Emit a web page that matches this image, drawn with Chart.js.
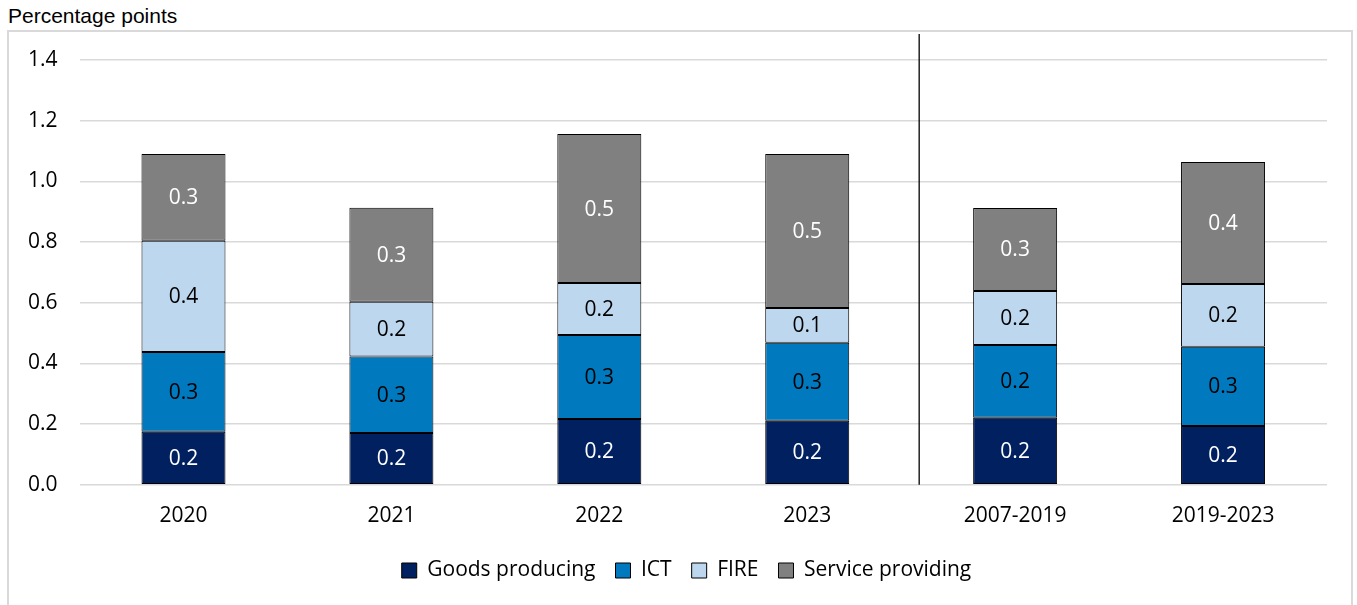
<!DOCTYPE html>
<html>
<head>
<meta charset="utf-8">
<script src="https://cdn.jsdelivr.net/npm/chart.js@4.4.1/dist/chart.umd.min.js"></script>
<style>
  html, body { margin: 0; padding: 0; background: #fff; }
  #wrap { position: relative; width: 1357px; height: 605px; overflow: hidden; }
  #unit { position: absolute; left: 8px; top: 4px; font: 21px "Liberation Sans", Arial, sans-serif; color: #000; }
  #frame { position: absolute; left: 7px; top: 30px; width: 1346px; height: 600px; border: 2px solid #d9d9d9; box-sizing: border-box; }
  #chartWrap { position: absolute; left: 0; top: 0; width: 1357px; height: 605px; }
</style>
</head>
<body>
<div id="wrap">
  <div id="unit">Percentage points</div>
  <div id="frame"></div>
  <div id="chartWrap"><canvas id="chartContrib"></canvas></div>
</div>
<script>
const categories = ['2020', '2021', '2022', '2023', '2007-2019', '2019-2023'];
const goodsProducing = [0.175, 0.171, 0.217, 0.211, 0.221, 0.194];
const ict = [0.263, 0.252, 0.277, 0.257, 0.240, 0.261];
const fire = [0.366, 0.180, 0.171, 0.115, 0.178, 0.207];
const serviceProviding = [0.286, 0.310, 0.491, 0.507, 0.273, 0.402];
const yTicks = [0.0, 0.2, 0.4, 0.6, 0.8, 1.0, 1.2, 1.4];

const fontFamily = '"Open Sans", sans-serif';

// writes the rounded value in the middle of every segment
const segmentLabels = {
    id: 'segmentLabels',
    afterDatasetsDraw(chart) {
        const ctx = chart.ctx;
        ctx.save();
        ctx.font = '21px ' + fontFamily;
        ctx.textAlign = 'center';
        ctx.textBaseline = 'middle';
        chart.data.datasets.forEach((ds, i) => {
            chart.getDatasetMeta(i).data.forEach((bar, j) => {
                const mid = (bar.y + bar.base) / 2;
                ctx.fillStyle = ds.labelColor;
                ctx.fillText(ds.data[j].toFixed(1), bar.x, mid + 1);
            });
        });
        ctx.restore();
    }
};

// separator between the single years and the period averages
const periodDivider = {
    id: 'periodDivider',
    afterDraw(chart) {
        const x = chart.scales.x;
        const area = chart.chartArea;
        const px = (x.getPixelForValue(3) + x.getPixelForValue(4)) / 2 + 8;
        const ctx = chart.ctx;
        ctx.save();
        ctx.strokeStyle = '#000';
        ctx.lineWidth = 1.3;
        ctx.beginPath();
        ctx.moveTo(px, area.top - 26);
        ctx.lineTo(px, area.bottom);
        ctx.stroke();
        ctx.restore();
    }
};

// the legend sits a little right of the plot centre in the original
const legendNudge = {
    id: 'legendNudge',
    afterLayout(chart) {
        if (chart.legend) {
            chart.legend.left += 20;
            chart.legend.right += 20;
        }
    }
};

const ctx = document.getElementById('chartContrib').getContext('2d');

new Chart(ctx, {
    type: 'bar',
    data: {
        labels: categories,
        datasets: [
            { label: 'Goods producing', data: goodsProducing, backgroundColor: '#002060', labelColor: '#fff' },
            { label: 'ICT', data: ict, backgroundColor: '#0079BF', labelColor: '#000' },
            { label: 'FIRE', data: fire, backgroundColor: '#BDD7EE', labelColor: '#000' },
            { label: 'Service providing', data: serviceProviding, backgroundColor: '#808080', labelColor: '#fff' }
        ].map(ds => Object.assign(ds, {
            borderColor: '#000',
            borderWidth: 1,
            borderSkipped: false,
            barPercentage: 0.404,
            categoryPercentage: 1.0
        }))
    },
    options: {
        responsive: true,
        maintainAspectRatio: false,
        animation: false,
        layout: { padding: { left: 6, right: 30, top: 60, bottom: 14 } },
        scales: {
            x: {
                stacked: true,
                grid: { display: false },
                border: { display: false },
                ticks: { color: '#000', font: { family: fontFamily, size: 21 }, padding: 11 }
            },
            y: {
                stacked: true,
                min: 0,
                max: 1.4,
                afterBuildTicks: axis => { axis.ticks = yTicks.map(v => ({ value: v })); },
                grid: { color: '#d9d9d9', lineWidth: 1.5, drawTicks: false },
                border: { display: false },
                ticks: {
                    color: '#000',
                    font: { family: fontFamily, size: 21 },
                    padding: 22,
                    callback: v => Number(v).toFixed(1)
                }
            }
        },
        plugins: {
            legend: {
                position: 'bottom',
                labels: {
                    color: '#000',
                    font: { family: fontFamily, size: 21 },
                    boxWidth: 15,
                    boxHeight: 15,
                    padding: 20,
                    useBorderRadius: false
                }
            },
            tooltip: { enabled: false }
        }
    },
    plugins: [segmentLabels, periodDivider, legendNudge]
});
</script>
</body>
</html>
